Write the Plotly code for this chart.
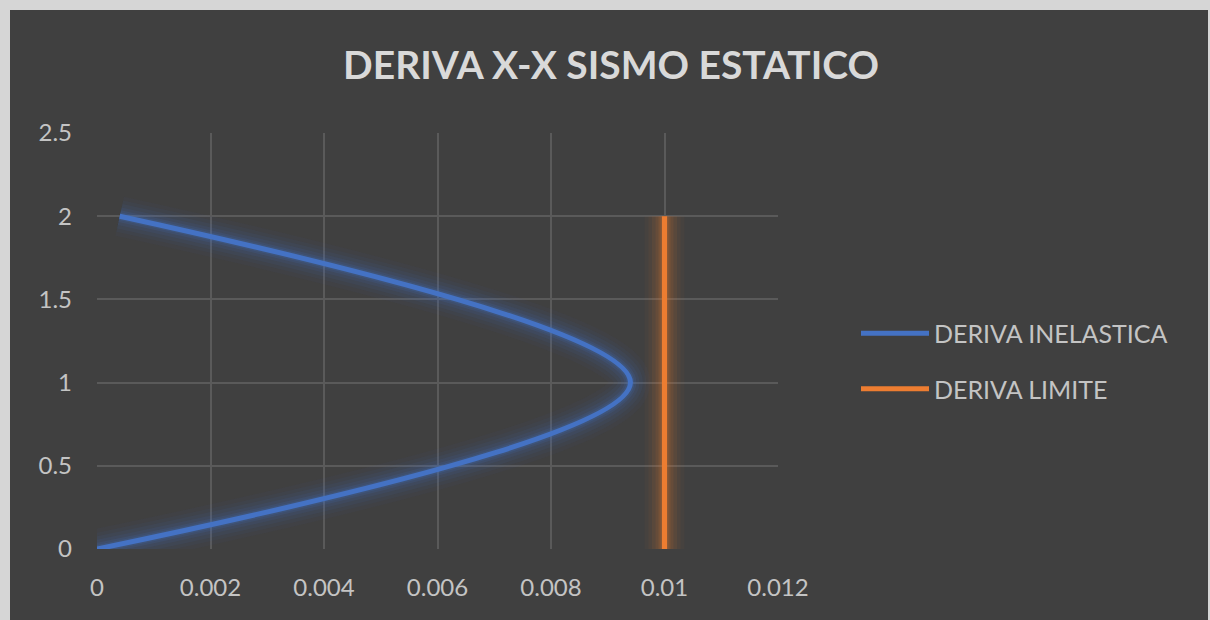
import plotly.graph_objects as go

# Storey heights and drift values
niveles = [0, 1, 2]
deriva_inelastica = [0.0, 0.0094, 0.0004]
deriva_limite = [0.01, 0.01, 0.01]

x_ticks = [0, 0.002, 0.004, 0.006, 0.008, 0.01, 0.012]
x_tick_labels = ["0", "0.002", "0.004", "0.006", "0.008", "0.01", "0.012"]
y_ticks = [0, 0.5, 1, 1.5, 2, 2.5]
y_tick_labels = ["0", "0.5", "1", "1.5", "2", "2.5"]

AZUL = "#4472C4"
NARANJA = "#ED7D31"
FONDO = "#404040"
TEXTO = "#D9D9D9"
ETIQUETA = "#C4C4C4"
MARCO = "#D6D6D6"
FUENTE = "Lato, 'Open Sans', sans-serif"

W, H = 1210, 620
ML, MR, MT, MB = 97, 432, 133, 71
PW, PH = W - ML - MR, H - MT - MB


def px_x(p):
    return (p - ML) / PW


def px_y(p):
    return (H - MB - p) / PH


fig = go.Figure()


# soft glow underneath each line
def glow(x, y, rgb, spline):
    for w, a in [(40, 0.04), (32, 0.05), (25, 0.07), (18, 0.09), (12, 0.13), (8, 0.18)]:
        line = dict(color=f"rgba({rgb},{a})", width=w)
        if spline:
            line.update(shape="spline", smoothing=1.0)
        fig.add_trace(go.Scatter(x=x, y=y, mode="lines", line=line,
                                 hoverinfo="skip", showlegend=False))


glow(deriva_inelastica, niveles, "68,114,196", True)
glow(deriva_limite, niveles, "237,125,49", False)

fig.add_trace(go.Scatter(
    x=deriva_inelastica, y=niveles, mode="lines", name="DERIVA INELASTICA",
    legendgroup="a",
    line=dict(color=AZUL, width=5, shape="spline", smoothing=1.0)))
fig.add_trace(go.Scatter(
    x=deriva_limite, y=niveles, mode="lines", name="DERIVA LIMITE",
    legendgroup="b",
    line=dict(color=NARANJA, width=5)))

fig.update_layout(
    width=W, height=H,
    paper_bgcolor=FONDO, plot_bgcolor=FONDO,
    margin=dict(l=ML, r=MR, t=MT, b=MB),
    title=dict(text="<b>DERIVA X-X SISMO ESTATICO</b>", x=0.505, xanchor="center",
               y=0.895, yanchor="middle",
               font=dict(family=FUENTE, size=39, color=TEXTO)),
    font=dict(family=FUENTE, color=ETIQUETA, size=24),
    legend=dict(x=px_x(856), xanchor="left", y=px_y(361), yanchor="middle",
                bgcolor="rgba(0,0,0,0)", itemwidth=68, tracegroupgap=20,
                font=dict(family=FUENTE, size=25, color=ETIQUETA)),
    xaxis=dict(range=[0, 0.012], tickvals=x_ticks, ticktext=x_tick_labels,
               showgrid=True, gridcolor="#5A5A5A", gridwidth=1.5,
               zeroline=False, showline=False, ticks="", ticklabelstandoff=22,
               tickfont=dict(size=24, color=ETIQUETA)),
    yaxis=dict(range=[0, 2.5], tickvals=y_ticks, ticktext=y_tick_labels,
               showgrid=True, gridcolor="#5A5A5A", gridwidth=1.5,
               zeroline=False, showline=False, ticks="", ticklabelstandoff=24,
               tickfont=dict(size=24, color=ETIQUETA)),
)

# light frame strips around the dark chart panel (top, left, right)
for x0, y0, x1, y1 in [(0, 0, W, 10), (0, 0, 10, H), (1208, 0, W, H)]:
    fig.add_shape(type="rect", xref="paper", yref="paper",
                  x0=px_x(x0), x1=px_x(x1), y0=px_y(y1), y1=px_y(y0),
                  line=dict(width=0), fillcolor=MARCO, layer="above")

fig.write_html("out.html")
